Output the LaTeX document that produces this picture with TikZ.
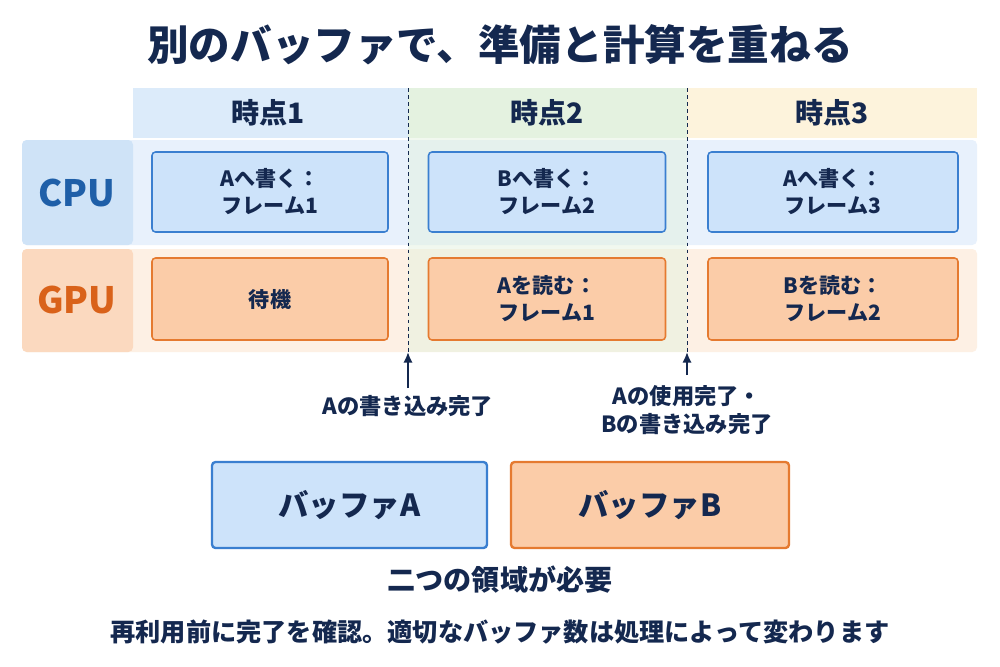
\documentclass[tikz,border=0pt]{standalone}
\usepackage{fontspec}
\setmainfont{Noto Sans CJK JP}
\usetikzlibrary{arrows.meta}
\definecolor{navy}{HTML}{14284F}
\definecolor{cpublue}{HTML}{1F5FA8}
\definecolor{gpuor}{HTML}{D9621A}
\definecolor{bfill}{HTML}{CDE3FA}
\definecolor{bline}{HTML}{3A7FD0}
\definecolor{ofill}{HTML}{FBCCA8}
\definecolor{oline}{HTML}{E57A30}
\begin{document}
\begin{tikzpicture}[x=0.03cm,y=-0.03cm,
  box/.style={rounded corners=3pt,line width=1.3pt},
  cbox/.style={box,fill=bfill,draw=bline},
  gbox/.style={box,fill=ofill,draw=oline},
  txt/.style={font=\bfseries\fontsize{18}{23}\selectfont,text=navy,align=center},
  lbl/.style={font=\bfseries\fontsize{19}{24}\selectfont,text=navy,align=center},
  hdr/.style={font=\bfseries\fontsize{24}{28}\selectfont,text=navy},
  mk/.style={-{Latex[length=9pt,width=8pt]},line width=2pt,draw=navy}]
\useasboundingbox (0,0) rectangle (1000,667);
\fill[white] (0,0) rectangle (1000,667);
\node[font=\bfseries\fontsize{35.5}{40}\selectfont,text=navy] (title) at (500,45) {別のバッファで、準備と計算を重ねる};
% backgrounds
\fill[rounded corners=4pt,fill={rgb,255:red,232;green,241;blue,252}] (22,140) rectangle (977,245);
\fill[rounded corners=4pt,fill={rgb,255:red,253;green,240;blue,228}] (22,249) rectangle (977,352);
\fill[rounded corners=4pt,fill={rgb,255:red,207;green,227;blue,247}] (22,140) rectangle (133,245);
\fill[rounded corners=4pt,fill={rgb,255:red,251;green,217;blue,191}] (22,249) rectangle (133,352);
\fill[fill={rgb,255:red,220;green,235;blue,250}] (133,88) rectangle (408,138);
\fill[fill={rgb,255:red,228;green,242;blue,224}] (408,88) rectangle (687,138);
\fill[fill={rgb,255:red,253;green,243;blue,220}] (687,88) rectangle (977,138);
\fill[fill={rgb,255:red,228;green,242;blue,224},opacity=0.5] (408,138) rectangle (687,352);
\node[hdr] (h1) at (268,113) {時点1};
\node[hdr] (h2) at (547,113) {時点2};
\node[hdr] (h3) at (832,113) {時点3};
\node[font=\bfseries\fontsize{31}{34}\selectfont,text=cpublue] (cpu) at (77,193) {CPU};
\node[font=\bfseries\fontsize{31}{34}\selectfont,text=gpuor] (gpu) at (77,300) {GPU};
\draw[navy,dashed,line width=0.8pt] (408,88) -- (408,352);
\draw[navy,dashed,line width=0.8pt] (687,88) -- (687,352);
% boxes
\node[cbox,txt,minimum width=236*0.03cm,minimum height=80*0.03cm] (c1) at (270,192) {Aへ書く：\\フレーム1};
\node[cbox,txt,minimum width=237*0.03cm,minimum height=80*0.03cm] (c2) at (547,192) {Bへ書く：\\フレーム2};
\node[cbox,txt,minimum width=250*0.03cm,minimum height=80*0.03cm] (c3) at (833,192) {Aへ書く：\\フレーム3};
\node[gbox,txt,minimum width=236*0.03cm,minimum height=82*0.03cm] (g1) at (270,299) {待機};
\node[gbox,txt,minimum width=237*0.03cm,minimum height=82*0.03cm] (g2) at (547,299) {Aを読む：\\フレーム1};
\node[gbox,txt,minimum width=250*0.03cm,minimum height=82*0.03cm] (g3) at (833,299) {Bを読む：\\フレーム2};
% markers
\coordinate (t1) at (408,352);
\coordinate (t2) at (687,352);
\node[lbl,inner sep=1pt] (l1) at (408,406) {Aの書き込み完了};
\node[lbl,inner sep=1pt] (l2) at (687,410) {Aの使用完了・\\Bの書き込み完了};
\draw[mk] (408,388) -- (t1);
\draw[mk] (687,375) -- (t2);
% buffers
\node[box,fill=bfill,draw=bline,line width=2pt,minimum width=275*0.03cm,minimum height=86*0.03cm,font=\bfseries\fontsize{26}{30}\selectfont,text=navy] (ba) at (349.5,505) {バッファA};
\node[box,fill=ofill,draw=oline,line width=2pt,minimum width=278*0.03cm,minimum height=86*0.03cm,font=\bfseries\fontsize{26}{30}\selectfont,text=navy] (bb) at (650,505) {バッファB};
\node[font=\bfseries\fontsize{24}{28}\selectfont,text=navy] (need) at (500,580) {二つの領域が必要};
\node[font=\bfseries\fontsize{21.5}{25}\selectfont,text=navy] (note) at (500,632) {再利用前に完了を確認。適切なバッファ数は処理によって変わります};
\end{tikzpicture}
\end{document}
